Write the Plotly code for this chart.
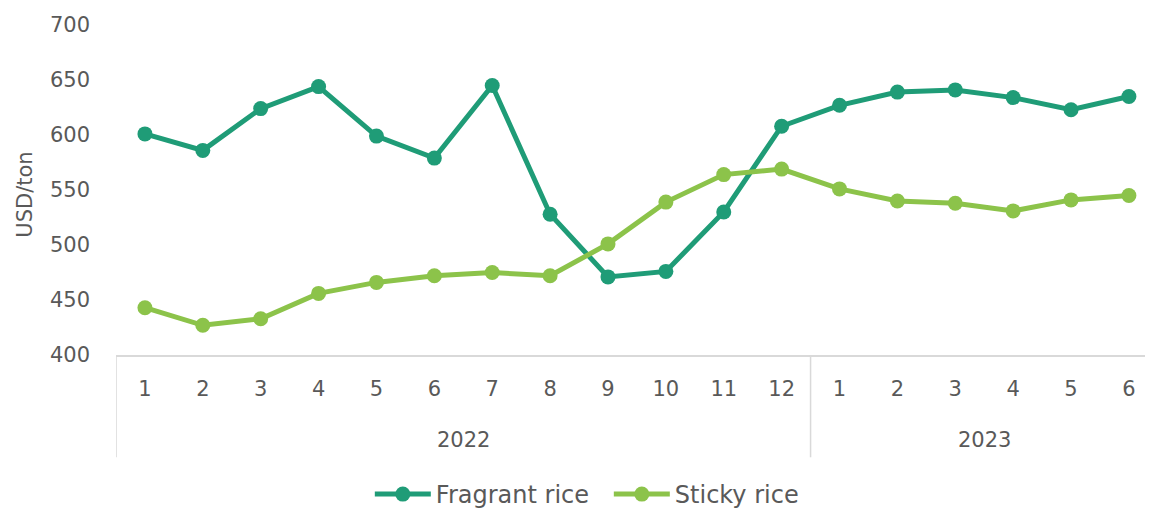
import plotly.graph_objects as go

years = ["2022"] * 12 + ["2023"] * 6
months = [str(m) for m in range(1, 13)] + [str(m) for m in range(1, 7)]
fragrant = [601, 586, 624, 644, 599, 579, 645, 528, 471, 476, 530, 608,
            627, 639, 641, 634, 623, 635]
sticky = [443, 427, 433, 456, 466, 472, 475, 472, 501, 539, 564, 569,
          551, 540, 538, 531, 541, 545]

FONT = "DejaVu Sans"
TXT = "#595959"
GRID = "#d9d9d9"

idx = list(range(len(months)))

fig = go.Figure()
fig.add_trace(go.Scatter(
    x=idx, y=fragrant, name="Fragrant rice",
    mode="lines+markers",
    line=dict(color="#1f9c77", width=5),
    marker=dict(color="#1f9c77", size=15),
))
fig.add_trace(go.Scatter(
    x=idx, y=sticky, name="Sticky rice",
    mode="lines+markers",
    line=dict(color="#8cc34a", width=5),
    marker=dict(color="#8cc34a", size=15),
))

# year group labels and dividers
groups = []
for i, yr in enumerate(years):
    if not groups or groups[-1][0] != yr:
        groups.append([yr, i, i])
    else:
        groups[-1][2] = i
for yr, a, b in groups:
    fig.add_annotation(x=(a + b) / 2, y=-0.258, xref="x", yref="paper",
                       text=yr, showarrow=False, yanchor="middle",
                       font=dict(family=FONT, size=21, color=TXT))
bounds = [g[1] - 0.5 for g in groups] + [groups[-1][2] + 0.5]
for bx in bounds:
    fig.add_shape(type="line", x0=bx, x1=bx, xref="x", yref="paper",
                  y0=0, y1=-0.31, line=dict(color=GRID, width=1.5))

# y-axis title
fig.add_annotation(text="USD/ton", xref="paper", yref="paper",
                   x=-0.088, y=0.485, textangle=-90, showarrow=False,
                   xanchor="center", yanchor="middle",
                   font=dict(family=FONT, size=21, color=TXT))

# page body has an 8px margin, so the figure is offset by 8px
fig.update_layout(
    width=1145, height=500,
    margin=dict(l=108, r=0, t=17, b=153),
    paper_bgcolor="white", plot_bgcolor="white",
    font=dict(family=FONT, size=21, color=TXT),
    showlegend=True,
    legend=dict(orientation="h", xref="container", yref="container",
                x=0.316, xanchor="left", y=0.072, yanchor="top",
                font=dict(size=24, color=TXT), itemwidth=56,
                entrywidth=168, entrywidthmode="pixels",
                bgcolor="rgba(0,0,0,0)"),
)
fig.update_xaxes(
    range=[-0.5, len(months) - 0.584],
    tickmode="array", tickvals=idx, ticktext=months,
    showline=True, linecolor=GRID, linewidth=1.5,
    showgrid=False, zeroline=False, ticks="", automargin=False,
    ticklabelstandoff=14,
    tickfont=dict(family=FONT, size=21, color=TXT),
)
fig.update_yaxes(
    range=[400, 700], dtick=50, showgrid=False, zeroline=False,
    showline=False, ticks="", automargin=False,
    ticklabelstandoff=25,
    tickfont=dict(family=FONT, size=21, color=TXT),
)

fig.write_html("out.html")
